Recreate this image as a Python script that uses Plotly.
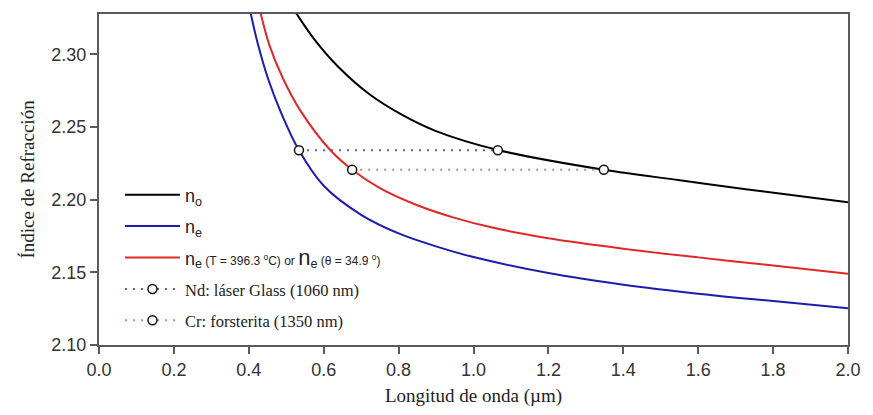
import plotly.graph_objects as go

# Wavelength (µm) and refractive index values
no_lambda = [0.515, 0.5285, 0.574, 0.636, 0.724, 0.812, 0.900, 1.065, 1.348, 1.551, 1.727, 2.0]
no_n = [2.3330, 2.3276, 2.3107, 2.2922, 2.2722, 2.2580, 2.2472, 2.2342, 2.2206, 2.2134, 2.2072, 2.1983]

ne_lambda = [0.398, 0.4055, 0.425, 0.451, 0.486, 0.534, 0.60, 0.70, 0.80, 0.90, 1.0, 1.2, 1.4, 1.6, 1.8, 2.0]
ne_n = [2.3380, 2.3278, 2.3064, 2.2836, 2.2600, 2.2340, 2.2096, 2.1896, 2.1768, 2.1679, 2.1605, 2.1495, 2.1415, 2.1353, 2.1302, 2.1253]

net_lambda = [0.424, 0.432, 0.455, 0.491, 0.539, 0.618, 0.676, 0.75, 0.85, 0.95, 1.05, 1.2, 1.4, 1.6, 1.8, 2.0]
net_n = [2.3360, 2.3278, 2.3064, 2.2836, 2.2608, 2.2340, 2.2206, 2.2080, 2.1962, 2.1875, 2.1808, 2.1735, 2.1663, 2.1603, 2.1547, 2.1490]

nd_lambda = [0.534, 1.065]
nd_n = [2.234, 2.234]
cr_lambda = [0.676, 1.348]
cr_n = [2.2206, 2.2206]

x_ticks = [0.0, 0.2, 0.4, 0.6, 0.8, 1.0, 1.2, 1.4, 1.6, 1.8, 2.0]
y_ticks = [2.10, 2.15, 2.20, 2.25, 2.30]

SANS = "Liberation Sans, Arial, sans-serif"
SERIF = "Liberation Serif, Times New Roman, serif"

small = "<span style='font-size:12px'>"
big_n = "<span style='font-size:22px'>n</span>"
serif_span = "<span style='font-family:Liberation Serif, serif; font-size:16.5px'>"

fig = go.Figure()

fig.add_trace(go.Scatter(
    x=no_lambda, y=no_n, mode="lines", line=dict(color="#000000", width=2, shape="spline"),
    name="n<sub>o</sub>", legendgroup="a"))
fig.add_trace(go.Scatter(
    x=ne_lambda, y=ne_n, mode="lines", line=dict(color="#1c1cb0", width=2, shape="spline"),
    name="n<sub>e</sub>", legendgroup="b"))
fig.add_trace(go.Scatter(
    x=net_lambda, y=net_n, mode="lines", line=dict(color="#e02828", width=2, shape="spline"),
    name="n<sub>e</sub>" + small + " (T = 396.3 <sup>o</sup>C) or </span>" + big_n + "<sub>e</sub>"
         + small + " (θ = 34.9 <sup>o</sup>)</span>",
    legendgroup="c"))
fig.add_trace(go.Scatter(
    x=nd_lambda, y=nd_n, mode="lines+markers",
    line=dict(color="#5a5aa8", width=2, dash="2px,6px"),
    marker=dict(symbol="circle", size=9, color="white", line=dict(color="#111111", width=1.5)),
    name=serif_span + "Nd: láser Glass (1060 nm)</span>", legendgroup="d"))
fig.add_trace(go.Scatter(
    x=cr_lambda, y=cr_n, mode="lines+markers",
    line=dict(color="#e07a7a", width=2, dash="2px,6px"),
    marker=dict(symbol="circle", size=9, color="white", line=dict(color="#111111", width=1.5)),
    name=serif_span + "Cr: forsterita (1350 nm)</span>", legendgroup="e"))

axis_common = dict(
    showline=True, linecolor="#5a5a5a", linewidth=2, mirror=True,
    ticks="outside", ticklen=7, tickwidth=1.5, tickcolor="#5a5a5a",
    showgrid=False, zeroline=False,
    tickfont=dict(family=SANS, size=18, color="#333333"),
)

fig.update_xaxes(
    range=[0, 2.0], tickvals=x_ticks, ticktext=[f"{v:.1f}" for v in x_ticks],
    title=dict(text="Longitud de onda (µm)", font=dict(family=SERIF, size=19, color="#222222"), standoff=10),
    **axis_common)
fig.update_yaxes(
    range=[2.10, 2.3278], tickvals=y_ticks, ticktext=[f"{v:.2f}" for v in y_ticks],
    title=dict(text="Índice de Refracción", font=dict(family=SERIF, size=19, color="#222222"), standoff=12),
    **axis_common)

fig.update_layout(
    width=873, height=415,
    margin=dict(l=99, r=16, t=12, b=70),
    paper_bgcolor="white", plot_bgcolor="white",
    showlegend=True,
    legend=dict(
        x=0.028, y=0.509, xanchor="left", yanchor="top",
        bgcolor="rgba(0,0,0,0)", borderwidth=0,
        font=dict(family=SANS, size=18, color="#222222"),
        tracegroupgap=5, itemwidth=55,
    ),
)

fig.write_html("out.html")
